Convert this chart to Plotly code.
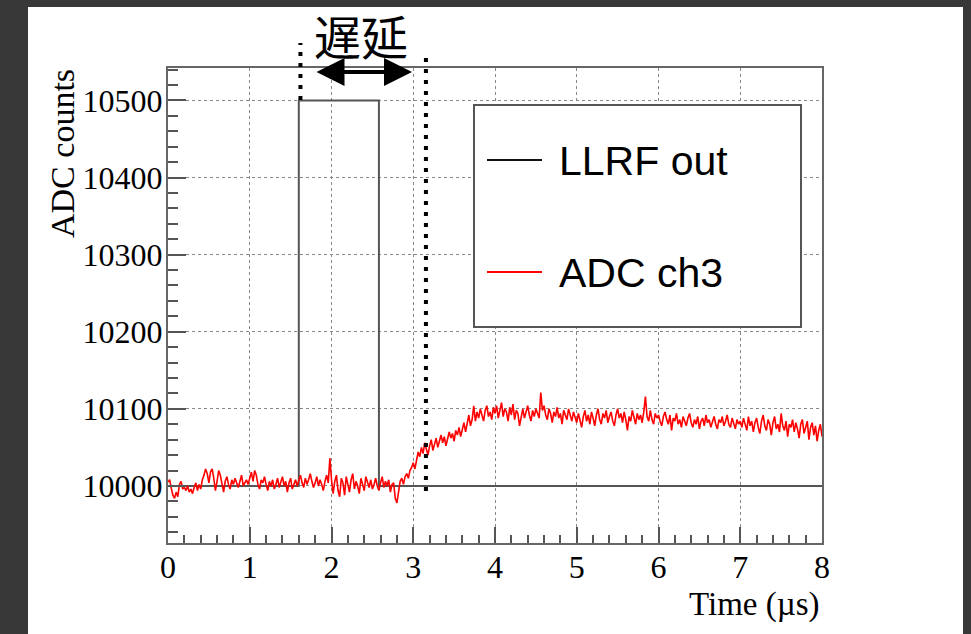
import numpy as np
import plotly.graph_objects as go

# ---------------- data ----------------
llrf_t = [0.0, 1.60, 1.60, 2.58, 2.58, 8.0]
llrf_v = [10000, 10000, 10500, 10500, 10000, 10000]

adc_offset = [
    # 0.00 - 0.98 us
    5, 8, -3, -12, -16, -8, -14, 2, 6, -4, -2, -6, 0, -8, -4, -10, -2, 4, -6, 2,
    -4, 8, 14, 22, 16, 4, 18, 22, 10, -6, 6, 20, 14, 2, -8, 6, 12, 2, -4, 8,
    2, 10, 4, -2, 6, 14, 0, 4, 8, 2,
    # 1.00 - 1.98 us
    10, 18, 6, 20, 14, 2, -4, 8, 4, 12, 2, -6, 6, 0, 8, -4, 2, 10, -2, 4,
    12, 0, 6, -8, 4, 10, -4, 2, 8, 0, 6, 14, 4, -2, 10, 2, 8, 16, 6, -2,
    4, 12, 0, 8, 2, -6, 6, 14, 4, 36,
    # 2.00 - 2.98 us
    8, -10, 6, 14, -6, -14, 10, 4, -12, 12, 2, -8, 8, 16, -4, 6, 0, -10, 10, 2,
    -6, 12, 4, -2, 8, -4, 2, 10, 0, -6, 4, 12, -2, 6, 0, 8, -8, 2, 4, -16,
    -22, -6, 6, 10, 2, 12, 16, 10, 20, 24,
    # 3.00 - 3.98 us
    30, 22, 34, 44, 38, 50, 42, 56, 48, 40, 52, 60, 46, 54, 62, 50, 58, 66, 56, 64,
    52, 60, 70, 62, 68, 58, 72, 66, 76, 64, 74, 82, 70, 80, 92, 78, 86, 104, 84, 96,
    88, 100, 92, 84, 98, 104, 90, 96, 86, 102,
    # 4.00 - 4.98 us
    94, 104, 88, 98, 108, 90, 100, 96, 84, 102, 92, 106, 86, 98, 94, 78, 90, 100, 88, 96,
    104, 92, 84, 98, 90, 100, 94, 88, 121, 98, 104, 92, 86, 100, 94, 82, 96, 90, 102, 88,
    94, 80, 98, 92, 86, 100, 90, 84, 96, 88,
    # 5.00 - 5.98 us
    82, 94, 86, 76, 90, 98, 84, 92, 80, 96, 88, 78, 92, 100, 86, 80, 94, 88, 98, 82,
    90, 96, 84, 78, 92, 100, 88, 94, 82, 96, 86, 72, 90, 84, 98, 88, 80, 94, 86, 92,
    82, 96, 116, 90, 84, 98, 86, 80, 94, 88,
    # 6.00 - 6.98 us
    92, 84, 78, 90, 96, 86, 80, 92, 72, 88, 84, 94, 80, 86, 76, 90, 84, 78, 88, 94,
    82, 76, 86, 80, 90, 74, 84, 88, 78, 92, 82, 86, 76, 84, 90, 80, 74, 86, 82, 90,
    78, 84, 92, 80, 76, 88, 82, 74, 86, 80,
    # 7.00 - 8.00 us
    84, 76, 88, 80, 72, 90, 78, 84, 70, 82, 88, 76, 68, 84, 92, 78, 72, 86, 80, 66,
    82, 90, 74, 80, 70, 94, 78, 72, 84, 64, 80, 76, 86, 70, 82, 74, 62, 80, 86, 68,
    78, 84, 60, 76, 82, 66, 78, 58, 72, 80, 64,
]
adc_base = 10000
adc_v = [adc_base + d for d in adc_offset]
adc_t = np.linspace(0.0, 8.0, len(adc_v))

x_ticks = [0, 1, 2, 3, 4, 5, 6, 7, 8]
y_ticks = [10000, 10100, 10200, 10300, 10400, 10500]

delay_left = 1.62
delay_right = 3.155

# ---------------- layout geometry ----------------
W, H = 971, 634
L, R, T, B = 168, 822, 68, 543
XMIN, XMAX = 0.0, 8.0
YMIN, YMAX = 9926, 10542


def px(xp):
    return (xp - L) / (R - L)


def py(yp):
    return (B - yp) / (B - T)


def dx(t):
    return (t - XMIN) / (XMAX - XMIN)


fig = go.Figure()
fig.add_trace(go.Scatter(x=llrf_t, y=llrf_v, mode="lines",
                         line=dict(color="#555555", width=2), name="LLRF out",
                         showlegend=False))
fig.add_trace(go.Scatter(x=adc_t, y=adc_v, mode="lines",
                         line=dict(color="#ff0000", width=1.6), name="ADC ch3",
                         showlegend=False))

shapes = []
# white page area over dark surround
shapes.append(dict(type="rect", xref="paper", yref="paper", layer="below",
                   x0=px(28), x1=px(963), y0=py(650), y1=py(7),
                   fillcolor="white", line=dict(width=0)))
# legend box
shapes.append(dict(type="rect", xref="paper", yref="paper", layer="above",
                   x0=px(474), x1=px(801), y0=py(327), y1=py(105),
                   fillcolor="white", line=dict(color="#555555", width=2)))
shapes.append(dict(type="line", xref="paper", yref="paper", layer="above",
                   x0=px(487), x1=px(542), y0=py(160), y1=py(160),
                   line=dict(color="#111111", width=2)))
shapes.append(dict(type="line", xref="paper", yref="paper", layer="above",
                   x0=px(487), x1=px(542), y0=py(272), y1=py(272),
                   line=dict(color="#ff0000", width=2)))
# delay markers (thick dotted)
shapes.append(dict(type="line", xref="paper", yref="paper", layer="above",
                   x0=dx(delay_left), x1=dx(delay_left), y0=py(100), y1=py(43),
                   line=dict(color="black", width=4, dash="4px,7px")))
shapes.append(dict(type="line", xref="paper", yref="paper", layer="above",
                   x0=dx(delay_right), x1=dx(delay_right), y0=py(491), y1=py(53),
                   line=dict(color="black", width=4, dash="4px,7px")))

annotations = []
annotations.append(dict(xref="paper", yref="paper", x=px(557), y=py(161),
                        xanchor="left", yanchor="middle", showarrow=False,
                        text="LLRF out",
                        font=dict(family="Liberation Sans", size=41, color="black")))
annotations.append(dict(xref="paper", yref="paper", x=px(557), y=py(273),
                        xanchor="left", yanchor="middle", showarrow=False,
                        text="ADC ch3",
                        font=dict(family="Liberation Sans", size=41, color="black")))
annotations.append(dict(xref="paper", yref="paper", x=px(62), y=py(154),
                        xanchor="center", yanchor="middle", showarrow=False,
                        textangle=-90, text="ADC counts",
                        font=dict(family="Liberation Serif", size=34, color="black")))
annotations.append(dict(xref="paper", yref="paper", x=1.0, y=py(604),
                        xanchor="right", yanchor="middle", showarrow=False,
                        text="Time (\u00b5s)",
                        font=dict(family="Liberation Serif", size=33, color="black")))
annotations.append(dict(xref="paper", yref="paper", x=px(361), y=py(34),
                        xanchor="center", yanchor="middle", showarrow=False,
                        text="遅延",
                        font=dict(family="Noto Sans CJK JP", size=47, color="black")))
# double-headed arrow
annotations.append(dict(xref="paper", yref="paper", axref="pixel", ayref="pixel",
                        x=px(412), y=py(72), ax=-(412 - 315), ay=0,
                        showarrow=True, arrowside="end+start", arrowhead=2,
                        startarrowhead=2, arrowsize=1.4, startarrowsize=1.4,
                        arrowwidth=4, arrowcolor="black", text=""))

fig.update_layout(
    width=W, height=H,
    margin=dict(l=L, r=W - R, t=T, b=H - B),
    paper_bgcolor="#383838",
    plot_bgcolor="white",
    shapes=shapes,
    annotations=annotations,
    showlegend=False,
)
fig.update_xaxes(range=[XMIN, XMAX], tickvals=x_ticks, ticktext=[str(v) for v in x_ticks],
                 ticks="inside", ticklen=16, tickwidth=2, tickcolor="#555555",
                 showline=True, linecolor="#666666", linewidth=2, mirror=True,
                 showgrid=True, gridcolor="#888888", griddash="dot", gridwidth=1,
                 zeroline=False, ticklabelstandoff=-5,
                 minor=dict(dtick=0.2, ticks="inside", ticklen=8, tickwidth=2,
                            tickcolor="#555555", showgrid=False),
                 tickfont=dict(family="Liberation Serif", size=32, color="black"))
fig.update_yaxes(range=[YMIN, YMAX], tickvals=y_ticks, ticktext=[str(v) for v in y_ticks],
                 ticks="inside", ticklen=18, tickwidth=2, tickcolor="#555555",
                 showline=True, linecolor="#666666", linewidth=2, mirror=True,
                 showgrid=True, gridcolor="#888888", griddash="dot", gridwidth=1,
                 zeroline=False, ticklabelstandoff=-3,
                 minor=dict(dtick=20, tick0=10000, ticks="inside", ticklen=10, tickwidth=2,
                            tickcolor="#555555", showgrid=False),
                 tickfont=dict(family="Liberation Serif", size=32, color="black"))

fig.write_html("out.html",
               config={"displayModeBar": False},
               post_script="document.body.style.margin='0px';"
                           "document.body.style.background='#383838';")
